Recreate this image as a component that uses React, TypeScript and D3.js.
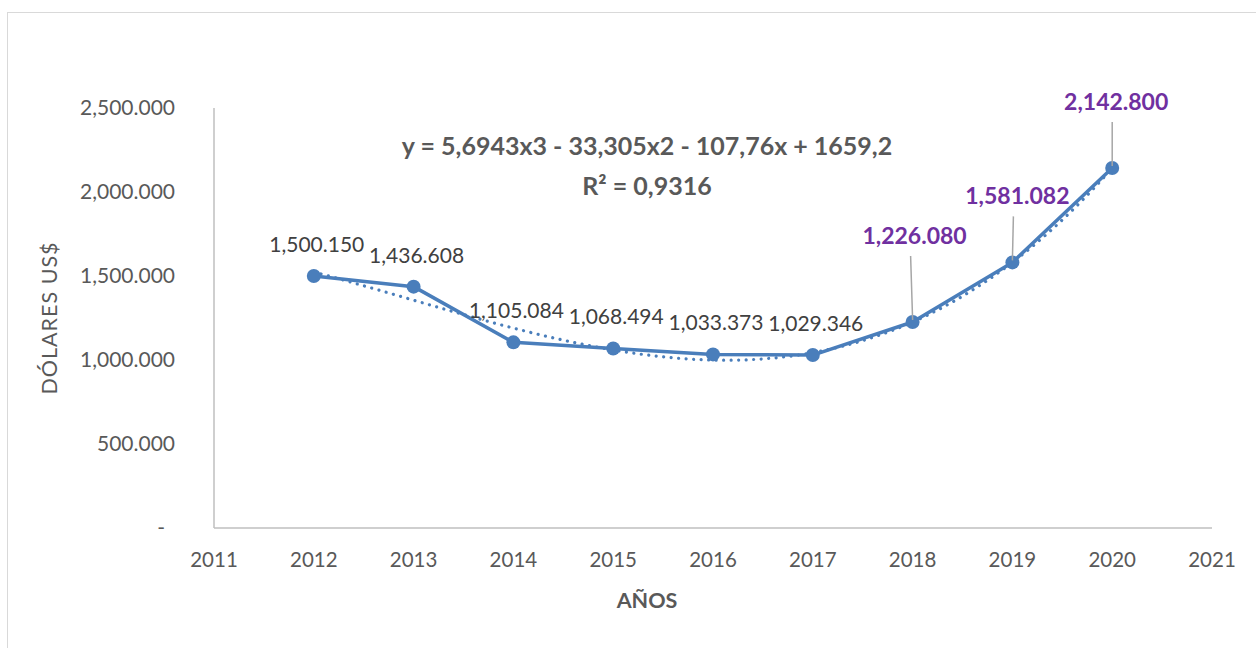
import React from "react";
import * as d3 from "d3";

const years = [2012, 2013, 2014, 2015, 2016, 2017, 2018, 2019, 2020];
const values = [1500.15, 1436.608, 1105.084, 1068.494, 1033.373, 1029.346, 1226.08, 1581.082, 2142.8];
const valueLabels = ["1,500.150", "1,436.608", "1,105.084", "1,068.494", "1,033.373", "1,029.346", "1,226.080", "1,581.082", "2,142.800"];
const xTicks = [2011, 2012, 2013, 2014, 2015, 2016, 2017, 2018, 2019, 2020, 2021];
const yTicks = [0, 500, 1000, 1500, 2000, 2500];
const yTickLabels = ["-", "500.000", "1,000.000", "1,500.000", "2,000.000", "2,500.000"];
// trendline coefficients shown on the chart (cubic in x = 1..9)
const trendCoefs = [5.6943, -33.305, -107.76, 1659.2];
const equationText = "y = 5,6943x3 - 33,305x2 - 107,76x + 1659,2";

const FONT = "Lato, 'Open Sans', sans-serif";
const BLUE = "#4A7EBB";
const PURPLE = "#7030A0";
const TEXT = "#404040";
const AXISTEXT = "#595959";

// highlighted labels (pulled away, with leader lines): index -> [dx, dy of label baseline from point]
const pulled: Record<number, [number, number]> = {
  6: [2, -78],
  7: [5, -58],
  8: [4, -58],
};

export default function App() {
  const x = d3.scaleLinear().domain([2011, 2021]).range([214, 1212]);
  const y = d3.scaleLinear().domain([0, 2500]).range([528, 108]);

  const line = d3
    .line<number>()
    .x((_, i) => x(years[i]))
    .y((d) => y(d));

  const trendXs = d3.range(1, 9.001, 0.05);
  const trendVal = (t: number) =>
    trendCoefs[0] * t * t * t + trendCoefs[1] * t * t + trendCoefs[2] * t + trendCoefs[3];
  const trendLine = d3
    .line<number>()
    .x((t) => x(2011 + t))
    .y((t) => y(trendVal(t)))
    .curve(d3.curveLinear);

  return (
    <svg
      width={1256}
      height={648}
      style={{ position: "absolute", left: 0, top: 0, background: "#fff" }}
      fontFamily={FONT}
    >
      <rect x={7.5} y={12.5} width={1300} height={700} fill="#fff" stroke="#d9d9d9" strokeWidth={1} />

      {/* axes */}
      <line x1={x(2011)} x2={x(2011)} y1={y(2500)} y2={y(0)} stroke="#bfbfbf" strokeWidth={1.5} />
      <line x1={x(2011)} x2={x(2021)} y1={y(0)} y2={y(0)} stroke="#bfbfbf" strokeWidth={1.5} />

      {yTicks.map((v, i) => (
        <text
          key={v}
          x={v === 0 ? 165 : 175}
          y={y(v)}
          dy="0.35em"
          textAnchor="end"
          fontSize={21}
          fill={AXISTEXT}
        >
          {yTickLabels[i]}
        </text>
      ))}
      {xTicks.map((t) => (
        <text key={t} x={x(t)} y={567} textAnchor="middle" fontSize={20.5} fill={AXISTEXT}>
          {t}
        </text>
      ))}

      <text
        transform={`translate(57,318) rotate(-90)`}
        textAnchor="middle"
        fontSize={21.5}
        letterSpacing={1}
        fill={AXISTEXT}
      >
        DÓLARES US$
      </text>
      <text x={647} y={608} textAnchor="middle" fontSize={21.5} fontWeight="bold" fill={AXISTEXT}>
        AÑOS
      </text>

      {/* trendline */}
      <path
        d={trendLine(trendXs) || ""}
        fill="none"
        stroke={BLUE}
        strokeWidth={3.2}
        strokeDasharray="0.01 7.5"
        strokeLinecap="round"
      />
      {/* series */}
      <path d={line(values) || ""} fill="none" stroke={BLUE} strokeWidth={3.5} strokeLinejoin="round" />
      {values.map((v, i) => (
        <circle key={i} cx={x(years[i])} cy={y(v)} r={7} fill={BLUE} />
      ))}

      {/* leader lines */}
      {values.map((v, i) => {
        const p = pulled[i];
        if (!p) return null;
        const px = x(years[i]);
        const py = y(v);
        return (
          <line
            key={"l" + i}
            x1={px + p[0] - 4}
            y1={py + p[1] + 12}
            x2={px}
            y2={py - 2}
            stroke="#a6a6a6"
            strokeWidth={1.5}
          />
        );
      })}

      {/* data labels */}
      {values.map((v, i) => {
        const p = pulled[i];
        const px = x(years[i]);
        const py = y(v);
        if (p) {
          return (
            <text
              key={"t" + i}
              x={px + p[0]}
              y={py + p[1]}
              textAnchor="middle"
              fontSize={23}
              fontWeight="bold"
              fill={PURPLE}
            >
              {valueLabels[i]}
            </text>
          );
        }
        return (
          <text key={"t" + i} x={px + 3} y={py - 24} textAnchor="middle" fontSize={21} fill={TEXT}>
            {valueLabels[i]}
          </text>
        );
      })}

      {/* equation */}
      <text x={647} y={155} textAnchor="middle" fontSize={25} fontWeight="bold" fill={AXISTEXT}>
        {equationText}
      </text>
      <text x={647} y={195} textAnchor="middle" fontSize={25} fontWeight="bold" fill={AXISTEXT}>
        R² = 0,9316
      </text>
    </svg>
  );
}
